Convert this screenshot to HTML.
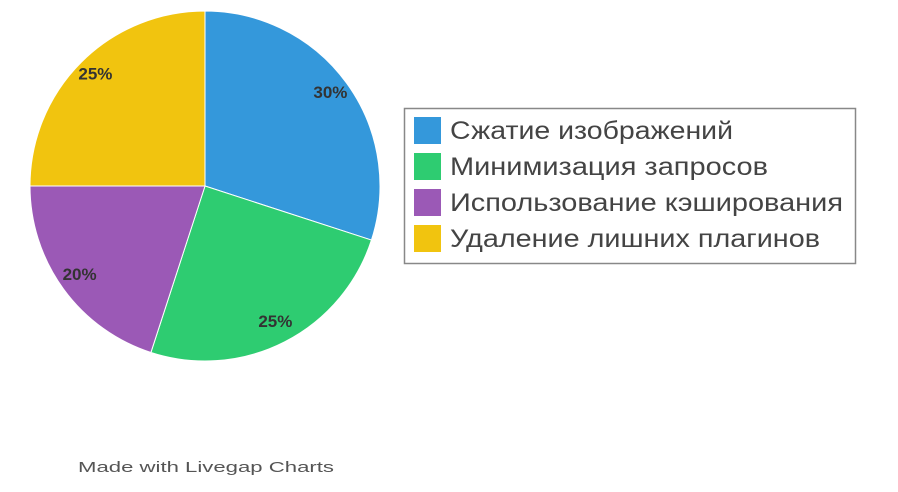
<!DOCTYPE html>
<html><head><meta charset="utf-8"><style>
html,body{margin:0;padding:0;background:#fff;width:898px;height:492px;overflow:hidden}
svg text{font-family:"Liberation Sans","DejaVu Sans",sans-serif}
</style></head><body>
<svg width="898" height="492" viewBox="0 0 898 492">
<g id="slices"></g>
<g id="labels"></g>
<rect x="404.5" y="108.5" width="451" height="155" fill="#fff" stroke="#888" stroke-width="1.5"/>
<g id="legend"></g>
<text x="78" y="472" font-size="15" fill="#555" textLength="256" lengthAdjust="spacingAndGlyphs">Made with Livegap Charts</text>
</svg>
<script>
const categories=["Сжатие изображений","Минимизация запросов","Использование кэширования","Удаление лишних плагинов"];
const values=[30,25,20,25];
const colors=["#3498db","#2ecc71","#9b59b6","#f1c40f"];
const legendWidths=[283,318,393,370];
const NS="http://www.w3.org/2000/svg";
const cx=205,cy=186,r=175;
const total=values.reduce((a,b)=>a+b,0);
const sg=document.getElementById('slices'),lg=document.getElementById('labels'),leg=document.getElementById('legend');
let a0=0;
function pt(a,rr){return [cx+rr*Math.sin(a),cy-rr*Math.cos(a)];}
values.forEach((v,i)=>{
  const a1=a0+v/total*2*Math.PI;
  const p0=pt(a0,r),p1=pt(a1,r);
  const large=(a1-a0)>Math.PI?1:0;
  const p=document.createElementNS(NS,'path');
  p.setAttribute('d',`M${cx},${cy}L${p0[0]},${p0[1]}A${r},${r} 0 ${large} 1 ${p1[0]},${p1[1]}Z`);
  p.setAttribute('fill',colors[i]);p.setAttribute('stroke','#fff');p.setAttribute('stroke-width','1');
  
  
  sg.appendChild(p);
  const m=(a0+a1)/2,lp=pt(m,155);
  const t=document.createElementNS(NS,'text');
  t.setAttribute('x',lp[0]);t.setAttribute('y',lp[1]+3);t.setAttribute('text-anchor','middle');
  t.setAttribute('font-size','17');t.setAttribute('font-weight','bold');t.setAttribute('fill','#333');
  t.textContent=v+'%';
  
  
  lg.appendChild(t);
  const y=117+i*36;
  const sq=document.createElementNS(NS,'rect');
  sq.setAttribute('x',414);sq.setAttribute('y',y);sq.setAttribute('width',27);sq.setAttribute('height',27);sq.setAttribute('fill',colors[i]);
  
  
  leg.appendChild(sq);
  const lt=document.createElementNS(NS,'text');
  lt.setAttribute('x',450);lt.setAttribute('y',y+22);lt.setAttribute('font-size','25');lt.setAttribute('fill','#444');
  lt.setAttribute('textLength',legendWidths[i]);lt.setAttribute('lengthAdjust','spacingAndGlyphs');
  lt.textContent=categories[i];
  
  
  leg.appendChild(lt);
  a0=a1;
});
</script>
</body></html>
